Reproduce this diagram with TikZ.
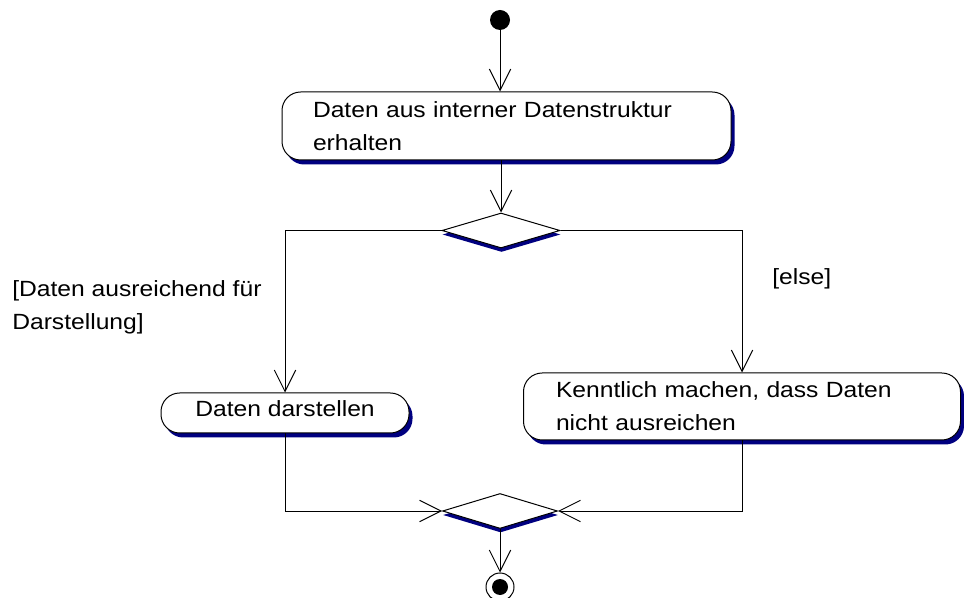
\documentclass[tikz,border=0pt]{standalone}
\usepackage{fontspec}
\setmainfont[FakeStretch=1.12]{Liberation Sans}
\usetikzlibrary{shapes.geometric,arrows.meta,shadows}
\definecolor{shadowblue}{RGB}{0,0,128}
\def\px{0.75pt}
\begin{document}
\begin{tikzpicture}[x=0.75pt,y=-0.75pt,
  font=\fontsize{16.5}{24.75}\selectfont,
  every node/.style={inner sep=0pt},
  actbox/.style={draw=black, line width=0.75pt, fill=white, rounded corners=14pt,
    drop shadow={fill=shadowblue, opacity=1, shadow xshift=3.5*\px, shadow yshift=-4.5*\px}},
  decision/.style={diamond, draw=black, line width=0.75pt, fill=white,
    drop shadow={fill=shadowblue, opacity=1, shadow xshift=0.5*\px, shadow yshift=-4*\px}},
  flow/.style={draw=black, line width=0.75pt, -{Straight Barb[length=16pt, width=16pt, line width=0.75pt]}},
  guard/.style={align=left, anchor=north west}
]
\useasboundingbox (0,0) rectangle (964,598);

% start
\node[circle, fill=black, minimum size=20*\px] (s) at (500,20) {};

% action 1
\node[actbox, minimum width=449*\px, minimum height=68*\px, text width=387*\px, align=left]
  (a1) at (506.5,126) {Daten aus interner Datenstruktur\\erhalten};

% decision 1
\node[decision, minimum width=118*\px, minimum height=35*\px] (d1) at (501,230.5) {};

% action 2
\node[actbox, minimum width=248*\px, minimum height=40*\px, text height=12*\px, text depth=4*\px]
  (a2) at (285,413) {Daten darstellen};

% action 3
\node[actbox, minimum width=437*\px, minimum height=67*\px, text width=372*\px, align=left]
  (a3) at (742,406.5) {Kenntlich machen, dass Daten\\nicht ausreichen};

% decision 2 (merge)
\node[decision, minimum width=115*\px, minimum height=35*\px] (d2) at (500,511) {};

% end
\node[circle, draw=black, line width=0.75pt, fill=white, minimum size=28*\px] (e) at (500,587) {};
\node[circle, fill=black, minimum size=16*\px] (ei) at (e.center) {};

% guards
\node[guard] (g1) at (12,280) {[Daten ausreichend für\\Darstellung]};
\node[guard] (g2) at (772,268) {[else]};

% connectors
\draw[flow] (s) -- (s |- a1.north);
\draw[flow] (d1 |- a1.south) -- (d1.north);
\draw[flow] (d1.west) -| (a2.north);
\draw[flow] (d1.east) -| (a3.north);
\draw[flow] (a2.south) |- (d2.west);
\draw[flow] (a3.south) |- (d2.east);
\draw[flow] (d2.south) -- (e.north);
\end{tikzpicture}
\end{document}
